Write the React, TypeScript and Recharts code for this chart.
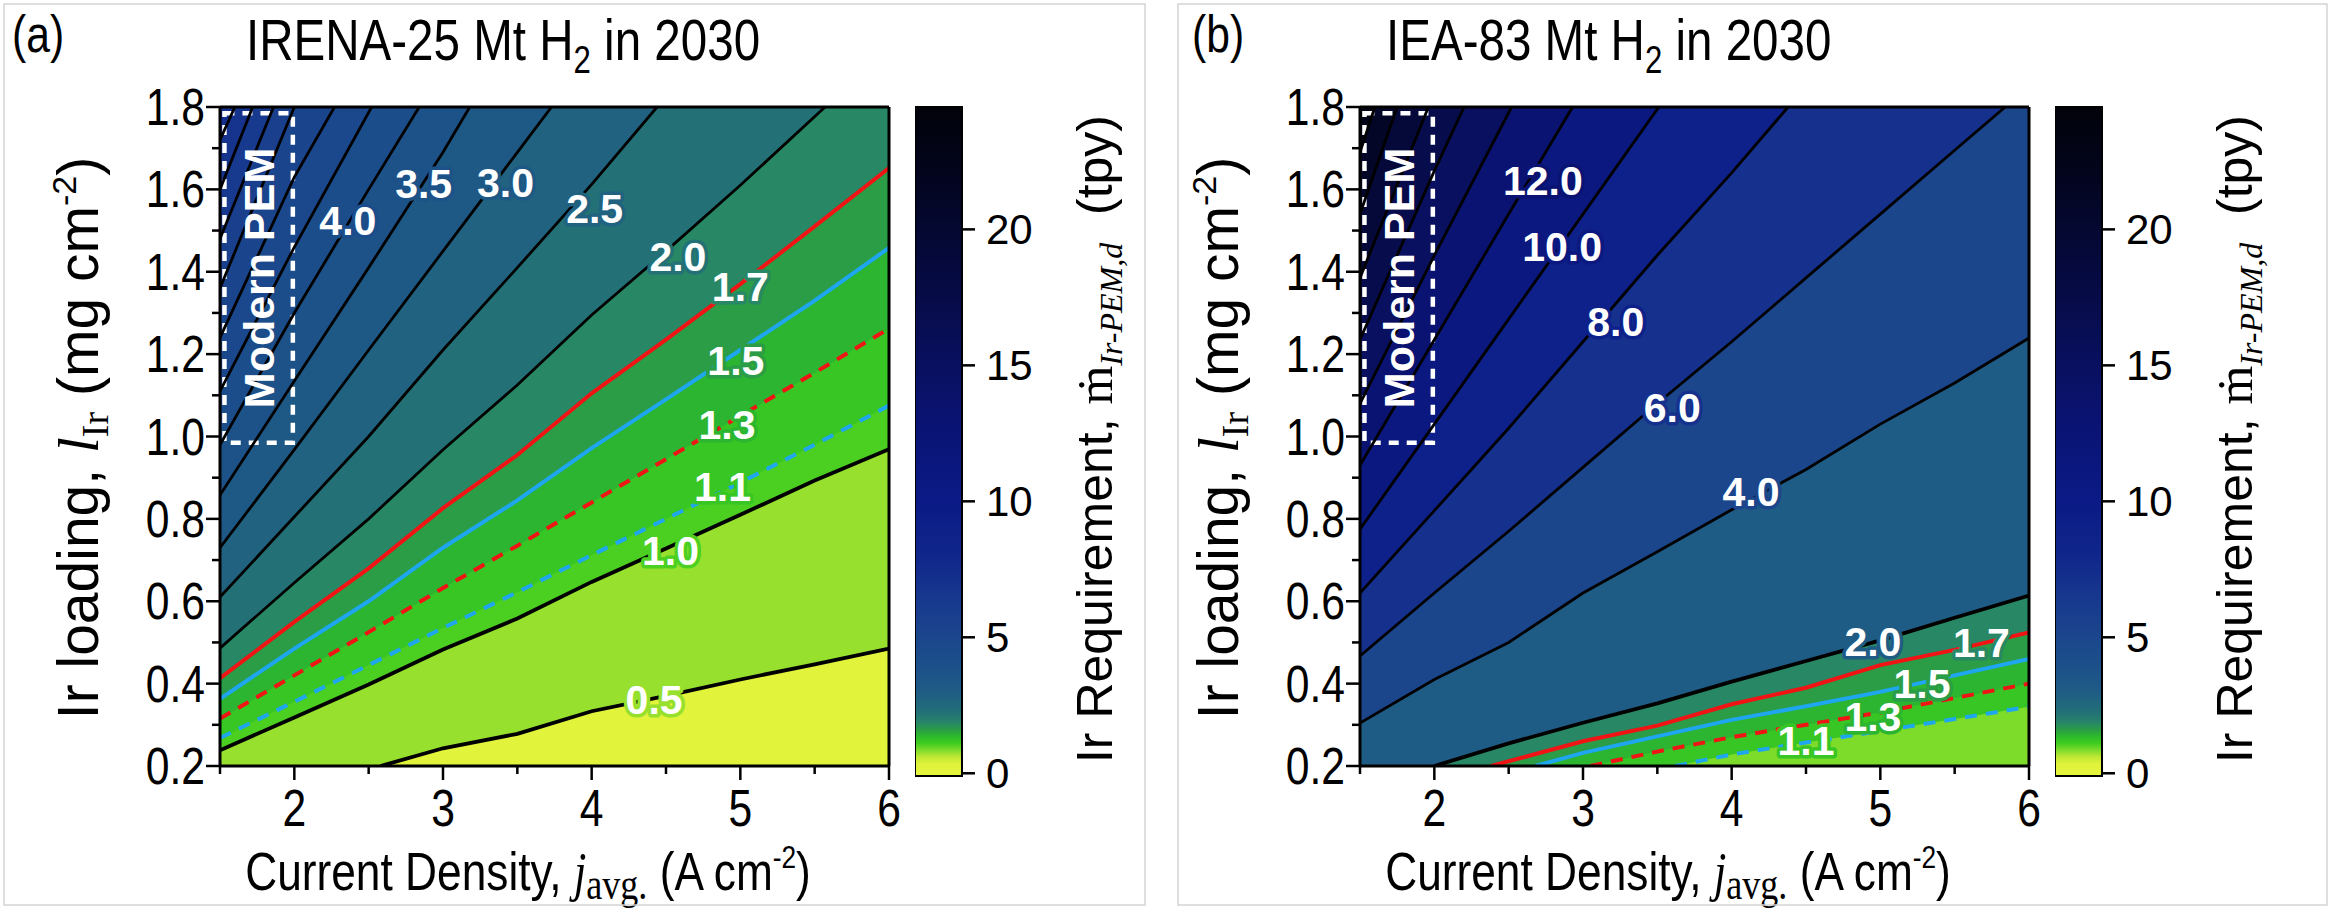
import React from 'react';
import { ComposedChart, Area, Line, Scatter, XAxis, YAxis, ReferenceArea } from 'recharts';

type Pt = [number, number];

const SANS = "'Liberation Sans', Arial, sans-serif";
const SERIF = "'Liberation Serif', 'DejaVu Serif', serif";
// Arial Narrow look: Liberation Sans squeezed horizontally
const NARROW_X = 0.82;

// axis ticks
const jTicks = [1.5, 2, 2.5, 3, 3.5, 4, 4.5, 5, 5.5, 6];
const loadTicks = [0.2, 0.3, 0.4, 0.5, 0.6, 0.7, 0.8, 0.9, 1.0, 1.1, 1.2, 1.3, 1.4, 1.5, 1.6, 1.7, 1.8];
const cbarTicks = [0, 5, 10, 15, 20];

// IRENA 25 Mt H2 scenario: iso-lines of Ir requirement (tpy), traced as (j, L) pairs
const irenaLevels = [0.5, 1.0, 1.1, 1.3, 1.5, 1.7, 2.0, 2.5, 3.0, 3.5, 4.0, 4.5, 5.0, 5.5, 6.0, 6.5, 7.0];
const irenaLines: Pt[][] = [
  [[2.58, 0.2], [3.0, 0.243], [3.5, 0.278], [4.0, 0.333], [4.5, 0.37], [5.0, 0.41], [5.5, 0.447], [6.0, 0.485]],
  [[1.5, 0.238], [2.0, 0.318], [2.5, 0.398], [3.0, 0.483], [3.5, 0.558], [4.0, 0.647], [4.5, 0.728], [5.0, 0.81], [5.5, 0.893], [6.0, 0.969]],
  [[1.5, 0.268], [2.0, 0.356], [2.5, 0.445], [3.0, 0.535], [3.5, 0.622], [4.0, 0.712], [4.5, 0.8], [5.0, 0.888], [5.5, 0.98], [6.0, 1.075]],
  [[1.5, 0.315], [2.0, 0.42], [2.5, 0.525], [3.0, 0.632], [3.5, 0.735], [4.0, 0.84], [4.5, 0.945], [5.0, 1.05], [5.5, 1.155], [6.0, 1.262]],
  [[1.5, 0.363], [2.0, 0.485], [2.5, 0.6], [3.0, 0.73], [3.5, 0.845], [4.0, 0.972], [4.5, 1.09], [5.0, 1.21], [5.5, 1.33], [6.0, 1.458]],
  [[1.5, 0.413], [2.0, 0.55], [2.5, 0.68], [3.0, 0.826], [3.5, 0.955], [4.0, 1.105], [4.5, 1.235], [5.0, 1.37], [5.5, 1.51], [6.0, 1.652]],
  [[1.5, 0.486], [2.0, 0.645], [2.5, 0.8], [3.0, 0.968], [3.5, 1.125], [4.0, 1.295], [4.5, 1.45], [5.0, 1.61], [5.57, 1.8]],
  [[1.5, 0.61], [2.0, 0.805], [2.5, 1.0], [3.0, 1.21], [3.5, 1.41], [4.0, 1.612], [4.44, 1.8]],
  [[1.5, 0.73], [2.0, 0.968], [2.5, 1.21], [3.0, 1.45], [3.5, 1.69], [3.73, 1.8]],
  [[1.5, 0.858], [2.0, 1.135], [2.5, 1.41], [3.0, 1.69], [3.18, 1.8]],
  [[1.5, 0.98], [2.0, 1.3], [2.5, 1.6], [2.84, 1.8]],
  [[1.5, 1.11], [2.0, 1.46], [2.52, 1.8]],
  [[1.5, 1.24], [2.0, 1.63], [2.27, 1.8]],
  [[1.5, 1.36], [2.0, 1.8]],
  [[1.5, 1.48], [1.86, 1.8]],
  [[1.5, 1.6], [1.72, 1.8]],
  [[1.5, 1.72], [1.6, 1.8]],
];
// inline labels: level, j, L
const irenaLabels: [number, number, number][] = [
  [0.5, 4.42, 0.361], [1.0, 4.53, 0.724], [1.1, 4.88, 0.879], [1.3, 4.91, 1.03], [1.5, 4.97, 1.185],
  [1.7, 5.0, 1.365], [2.0, 4.58, 1.438], [2.5, 4.02, 1.553], [3.0, 3.42, 1.618], [3.5, 2.87, 1.614], [4.0, 2.36, 1.524],
];

// IEA 83 Mt H2 scenario
const ieaLevels = [1.1, 1.3, 1.5, 1.7, 2.0, 4.0, 6.0, 8.0, 10.0, 12.0, 14.0, 16.0, 18.0, 20.0, 22.0];
const ieaLines: Pt[][] = [
  [[3.62, 0.2], [4.0, 0.228], [4.5, 0.257], [5.0, 0.285], [5.5, 0.314], [6.0, 0.344]],
  [[3.05, 0.2], [3.5, 0.235], [4.0, 0.27], [4.5, 0.3], [5.0, 0.33], [5.5, 0.365], [6.0, 0.4]],
  [[2.68, 0.2], [3.0, 0.232], [3.5, 0.272], [4.0, 0.312], [4.5, 0.345], [5.0, 0.38], [5.5, 0.42], [6.0, 0.46]],
  [[2.38, 0.2], [3.0, 0.26], [3.5, 0.298], [4.0, 0.35], [4.5, 0.39], [5.0, 0.445], [5.5, 0.482], [6.0, 0.524]],
  [[2.0, 0.2], [2.5, 0.255], [3.0, 0.305], [3.5, 0.352], [4.0, 0.405], [4.5, 0.455], [5.0, 0.505], [5.5, 0.56], [6.0, 0.614]],
  [[1.5, 0.304], [2.0, 0.41], [2.5, 0.5], [3.0, 0.62], [3.5, 0.72], [4.0, 0.822], [4.5, 0.92], [5.0, 1.03], [5.5, 1.13], [6.0, 1.239]],
  [[1.5, 0.467], [2.0, 0.62], [2.5, 0.77], [3.0, 0.925], [3.5, 1.08], [4.0, 1.23], [4.5, 1.385], [5.0, 1.54], [5.5, 1.695], [5.84, 1.8]],
  [[1.5, 0.62], [2.0, 0.82], [2.5, 1.02], [3.0, 1.23], [3.5, 1.44], [4.0, 1.64], [4.38, 1.8]],
  [[1.5, 0.775], [2.0, 1.03], [2.5, 1.285], [3.0, 1.54], [3.51, 1.8]],
  [[1.5, 0.93], [2.0, 1.235], [2.5, 1.54], [2.93, 1.8]],
  [[1.5, 1.08], [2.0, 1.44], [2.52, 1.8]],
  [[1.5, 1.235], [2.0, 1.645], [2.2, 1.8]],
  [[1.5, 1.385], [1.96, 1.8]],
  [[1.5, 1.54], [1.75, 1.8]],
  [[1.5, 1.69], [1.6, 1.8]],
];
const ieaLabels: [number, number, number][] = [
  [1.1, 4.5, 0.263], [1.3, 4.95, 0.32], [1.5, 5.28, 0.402], [1.7, 5.68, 0.5], [2.0, 4.95, 0.504],
  [4.0, 4.13, 0.867], [6.0, 3.6, 1.07], [8.0, 3.22, 1.279], [10.0, 2.86, 1.463], [12.0, 2.73, 1.622],
];

// colour scale (value in tpy -> colour)
const cmapStops: [number, string][] = [
  [-0.1, '#e7f53d'], [0.35, '#e0f23a'], [0.6, '#bfe834'], [0.85, '#7ddb2a'], [1.1, '#3fcd20'],
  [1.35, '#2cbb2a'], [1.6, '#2a9d46'], [1.9, '#27836a'], [2.3, '#226e78'], [3.0, '#1f5c85'],
  [4.0, '#1c4f8a'], [5.0, '#1b468c'], [6.5, '#17378e'], [8.0, '#10268b'], [10.0, '#0b1a86'],
  [13.0, '#0a1372'], [16.0, '#080e56'], [19.0, '#05093a'], [22.0, '#03051e'], [24.5, '#01020a'],
];

const hexRgb = (h: string) => [1, 3, 5].map((k) => parseInt(h.slice(k, k + 2), 16));

function cmap(v: number): string {
  const s = cmapStops;
  if (v <= s[0][0]) return s[0][1];
  for (let i = 1; i < s.length; i++) {
    if (v <= s[i][0]) {
      const t = (v - s[i - 1][0]) / (s[i][0] - s[i - 1][0]);
      const a = hexRgb(s[i - 1][1]);
      const b = hexRgb(s[i][1]);
      return `rgb(${a.map((c, k) => Math.round(c + (b[k] - c) * t)).join(',')})`;
    }
  }
  return s[s.length - 1][1];
}

function lineStyle(level: number, thick: number[]) {
  if (level === 1.1) return { stroke: '#1ea6ee', width: 4, dash: '12 9' };
  if (level === 1.3) return { stroke: '#f01414', width: 4, dash: '12 9' };
  if (level === 1.5) return { stroke: '#1ea6ee', width: 4, dash: undefined };
  if (level === 1.7) return { stroke: '#f01414', width: 4, dash: undefined };
  return { stroke: '#000', width: thick.includes(level) ? 3.8 : 2.8, dash: undefined };
}

// narrow text anchored at (x, y)
const Narrow = ({ x, y, size, anchor, children }: any) => (
  <text
    transform={`translate(${x} ${y}) scale(${NARROW_X} 1)`}
    x={0}
    y={0}
    textAnchor={anchor || 'start'}
    fontFamily={SANS}
    fontSize={size}
    fill="#000"
  >
    {children}
  </text>
);

const JTick = (p: any) => {
  const v = p.payload.value;
  const major = Number.isInteger(v);
  return (
    <g>
      <line x1={p.x} x2={p.x} y1={p.y} y2={p.y + (major ? 14 : 8)} stroke="#000" strokeWidth={2.5} />
      {major && (
        <Narrow x={p.x} y={p.y + 60} size={52} anchor="middle">
          {v}
        </Narrow>
      )}
    </g>
  );
};

const LTick = (p: any) => {
  const v = p.payload.value;
  const major = Math.round(v * 10) % 2 === 0;
  return (
    <g>
      <line x1={p.x} x2={p.x - (major ? 14 : 8)} y1={p.y} y2={p.y} stroke="#000" strokeWidth={2.5} />
      {major && (
        <Narrow x={p.x - 15} y={p.y + 18} size={52} anchor="end">
          {v.toFixed(1)}
        </Narrow>
      )}
    </g>
  );
};

const CTick = (p: any) => (
  <g>
    <line x1={p.x} x2={p.x + 13} y1={p.y} y2={p.y} stroke="#000" strokeWidth={2.5} />
    <text x={p.x + 24} y={p.y} dy="0.36em" fontFamily={SANS} fontSize={42} fill="#000">
      {p.payload.value}
    </text>
  </g>
);

const ContourLabel = (p: any) => (
  <text
    x={p.cx}
    y={p.cy}
    dy="0.36em"
    textAnchor="middle"
    fontFamily={SANS}
    fontWeight="bold"
    fontSize={41}
    fill="#fff"
    stroke={p.payload.halo}
    strokeWidth={7}
    strokeLinejoin="round"
    paintOrder="stroke"
  >
    {p.payload.text}
  </text>
);

const PemLabel = (p: any) => (
  <text
    x={p.cx}
    y={p.cy}
    dy="0.36em"
    textAnchor="middle"
    transform={`rotate(-90 ${p.cx} ${p.cy})`}
    fontFamily={SANS}
    fontWeight="bold"
    fontSize={43}
    fill="#fff"
  >
    Modern PEM
  </text>
);

// dashed box marking today's PEM operating window
const pemJ: Pt = [1.53, 1.99];
const pemL: Pt = [0.985, 1.785];

type PanelProps = {
  left: number;
  tag: string;
  tagX: number;
  titleHead: string;
  levels: number[];
  lines: Pt[][];
  labels: [number, number, number][];
  baseMid: number;
  thick: number[];
  gradId: string;
};

const frameLine = { stroke: '#000', strokeWidth: 3 };

function ContourPanel({ left, tag, tagX, titleHead, levels, lines, labels, baseMid, thick, gradId }: PanelProps) {
  const bandMid = (i: number) =>
    i + 1 < levels.length ? (levels[i] + levels[i + 1]) / 2 : levels[i] + (levels[i] - levels[i - 1]) / 2;
  const rows = (pts: Pt[]) => pts.map(([j, L]) => ({ j, L }));
  // region above each iso-line (higher requirement), closed along the bottom edge where needed
  const fills = lines.map((pts) => rows(pts[0][0] > 1.5 ? [[1.5, 0.2] as Pt, ...pts] : pts));
  const labelRows = labels.map(([lv, j, L]) => ({
    j,
    L,
    text: lv.toFixed(1),
    halo: cmap(bandMid(levels.indexOf(lv))),
  }));
  const pemRows = [{ j: (pemJ[0] + pemJ[1]) / 2, L: (pemL[0] + pemL[1]) / 2 }];

  return (
    <div style={{ position: 'absolute', left, top: 0, width: 1185, height: 911 }}>
      <div style={{ position: 'absolute', left: 0, top: 0 }}>
        <ComposedChart width={1160} height={911} margin={{ top: 106, right: 270, bottom: 144, left: 219 }}>
          <XAxis
            type="number"
            dataKey="j"
            domain={[1.5, 6]}
            allowDataOverflow
            ticks={jTicks}
            interval={0}
            height={1}
            tickSize={0}
            tickMargin={0}
            tickLine={false}
            tick={JTick}
            axisLine={frameLine}
          />
          <XAxis
            xAxisId="top"
            orientation="top"
            type="number"
            domain={[1.5, 6]}
            allowDataOverflow
            ticks={[1.5, 6]}
            height={1}
            tick={false}
            tickLine={false}
            axisLine={frameLine}
          />
          <YAxis
            type="number"
            dataKey="L"
            domain={[0.2, 1.8]}
            allowDataOverflow
            ticks={loadTicks}
            interval={0}
            width={1}
            tickSize={0}
            tickMargin={0}
            tickLine={false}
            tick={LTick}
            axisLine={frameLine}
          />
          <YAxis
            yAxisId="right"
            orientation="right"
            type="number"
            domain={[0.2, 1.8]}
            allowDataOverflow
            ticks={[0.2, 1.8]}
            width={1}
            tick={false}
            tickLine={false}
            axisLine={frameLine}
          />
          <Area
            data={rows([[1.5, 0.2], [6, 0.2]])}
            dataKey="L"
            type="linear"
            baseValue={1.8}
            stroke="none"
            fill={cmap(baseMid)}
            fillOpacity={1}
            isAnimationActive={false}
          />
          {fills.map((d, i) => (
            <Area
              key={`f${i}`}
              data={d}
              dataKey="L"
              type="linear"
              baseValue={1.8}
              stroke="none"
              fill={cmap(bandMid(i))}
              fillOpacity={1}
              isAnimationActive={false}
            />
          ))}
          {lines.map((pts, i) => {
            const s = lineStyle(levels[i], thick);
            return (
              <Line
                key={`l${i}`}
                data={rows(pts)}
                dataKey="L"
                type="linear"
                stroke={s.stroke}
                strokeWidth={s.width}
                strokeDasharray={s.dash}
                dot={false}
                activeDot={false}
                isAnimationActive={false}
              />
            );
          })}
          <ReferenceArea
            x1={pemJ[0]}
            x2={pemJ[1]}
            y1={pemL[0]}
            y2={pemL[1]}
            fill="none"
            stroke="#fff"
            strokeWidth={4.5}
            strokeDasharray="10 8"
          />
          <Scatter data={pemRows} shape={PemLabel} isAnimationActive={false} />
          <Scatter data={labelRows} shape={ContourLabel} isAnimationActive={false} />
        </ComposedChart>
      </div>

      <div style={{ position: 'absolute', left: 915, top: 0 }}>
        <ComposedChart
          width={200}
          height={911}
          data={[{ x: 0 }, { x: 1 }]}
          margin={{ top: 107, right: 152, bottom: 135, left: 0 }}
        >
          <defs>
            <linearGradient id={gradId} x1="0" y1="1" x2="0" y2="0">
              {cmapStops.map(([v, c]) => (
                <stop key={v} offset={(v + 0.1) / 24.6} stopColor={c} />
              ))}
            </linearGradient>
          </defs>
          <XAxis type="number" dataKey="x" domain={[0, 1]} hide />
          <YAxis
            type="number"
            orientation="right"
            domain={[-0.1, 24.5]}
            allowDataOverflow
            ticks={cbarTicks}
            interval={0}
            width={1}
            tickSize={0}
            tickMargin={0}
            tickLine={false}
            axisLine={false}
            tick={CTick}
          />
          <ReferenceArea
            x1={0}
            x2={1}
            y1={-0.1}
            y2={24.5}
            fill={`url(#${gradId})`}
            fillOpacity={1}
            stroke="#000"
            strokeWidth={2}
          />
        </ComposedChart>
      </div>

      <svg width={1185} height={911} style={{ position: 'absolute', left: 0, top: 0, pointerEvents: 'none' }}>
        <Narrow x={tagX} y={52} size={52}>
          {tag}
        </Narrow>
        <Narrow x={246} y={60} size={58}>
          {titleHead}
          <tspan fontSize={38} dy={13}>2</tspan>
          <tspan dy={-13}> in 2030</tspan>
        </Narrow>
        <text
          x={98}
          y={438}
          transform="rotate(-90 98 438)"
          textAnchor="middle"
          fontFamily={SANS}
          fontSize={57}
          fill="#000"
        >
          Ir loading,{' '}
          <tspan fontFamily={SERIF} fontStyle="italic">l</tspan>
          <tspan fontFamily={SERIF} fontSize={38} dy={10}>Ir</tspan>
          <tspan dy={-10}> (mg cm</tspan>
          <tspan fontSize={34} dy={-22}>-2</tspan>
          <tspan dy={22}>)</tspan>
        </text>
        <Narrow x={528} y={890} size={54} anchor="middle">
          Current Density,{' '}
          <tspan fontFamily={SERIF} fontStyle="italic">j</tspan>
          <tspan fontFamily={SERIF} fontSize={44} dy={9}>avg.</tspan>
          <tspan dy={-9}> (A cm</tspan>
          <tspan fontSize={32} dy={-22}>-2</tspan>
          <tspan dy={22}>)</tspan>
        </Narrow>
        <text
          x={1112}
          y={439}
          transform="rotate(-90 1112 439)"
          textAnchor="middle"
          fontFamily={SANS}
          fontSize={50}
          fill="#000"
        >
          Ir Requirement,{' '}
          <tspan fontFamily={SERIF}>ṁ</tspan>
          <tspan fontFamily={SERIF} fontStyle="italic" fontSize={32} dy={10}>Ir-PEM,d</tspan>
          <tspan dy={-10}>{'\u00a0\u00a0(tpy)'}</tspan>
        </text>
      </svg>
    </div>
  );
}

export default function App() {
  return (
    <div
      style={{
        position: 'absolute',
        left: 0,
        top: 0,
        width: 2331,
        height: 911,
        overflow: 'hidden',
        background: '#fff',
      }}
    >
      <ContourPanel
        left={0}
        tag="(a)"
        tagX={12}
        titleHead="IRENA-25 Mt H"
        levels={irenaLevels}
        lines={irenaLines}
        labels={irenaLabels}
        baseMid={0.25}
        thick={[0.5, 1.0]}
        gradId="cbarA"
      />
      <ContourPanel
        left={1140}
        tag="(b)"
        tagX={52}
        titleHead="IEA-83 Mt H"
        levels={ieaLevels}
        lines={ieaLines}
        labels={ieaLabels}
        baseMid={0.85}
        thick={[2.0]}
        gradId="cbarB"
      />
      <svg width={2331} height={911} style={{ position: 'absolute', left: 0, top: 0, pointerEvents: 'none' }}>
        <rect x={4} y={4} width={1141} height={901} fill="none" stroke="#d4d4d4" strokeWidth={1.5} />
        <rect x={1178} y={4} width={1149} height={901} fill="none" stroke="#d4d4d4" strokeWidth={1.5} />
      </svg>
    </div>
  );
}
